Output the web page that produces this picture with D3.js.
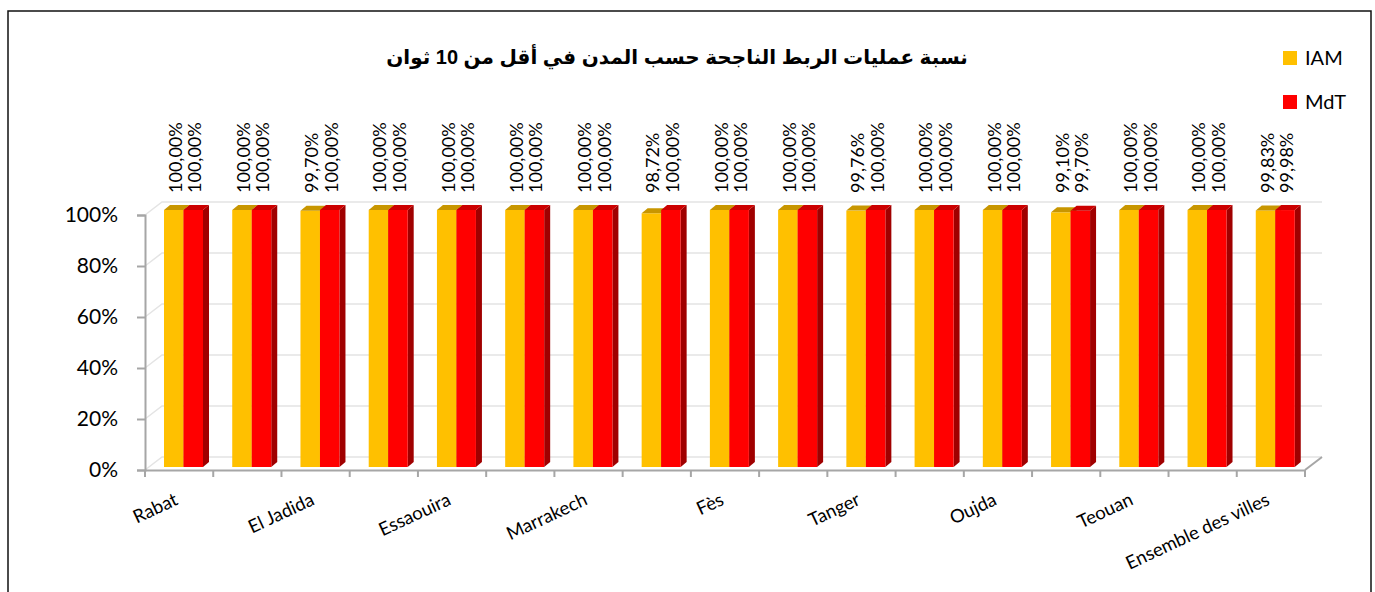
<!DOCTYPE html>
<html>
<head>
<meta charset="utf-8">
<script src="https://cdn.jsdelivr.net/npm/d3@7"></script>
<style>
  body { margin: 0; background: #fff; }
  svg { display: block; }
</style>
</head>
<body>
<svg id="chart" width="1375" height="592"></svg>
<script>
// data
var cities = ["Rabat", "Casablanca", "El Jadida", "Safi", "Essaouira", "Agadir", "Marrakech", "Meknès",
  "Fès", "Kénitra", "Tanger", "Nador", "Oujda", "Al Hoceima", "Teouan", "Larache", "Ensemble des villes"];
var iamValues = [100, 100, 99.70, 100, 100, 100, 100, 98.72, 100, 100, 99.76, 100, 100, 99.10, 100, 100, 99.83];
var mdtValues = [100, 100, 100, 100, 100, 100, 100, 100, 100, 100, 100, 100, 100, 99.70, 100, 100, 99.98];
var seriesNames = ["IAM", "MdT"];
var yTicks = [0, 20, 40, 60, 80, 100];
var title = "نسبة عمليات الربط الناجحة حسب المدن في أقل من 10 ثوان";

var svg = d3.select("#chart");
var sans = "Lato, 'Open Sans', sans-serif";

// colours: front, top, side
var colors = {
  IAM: { front: "#FFC000", top: "#C89600", side: "#B08400" },
  MdT: { front: "#FF0000", top: "#CC0000", side: "#A00000" }
};

// outer frame
svg.append("rect")
  .attr("x", 8).attr("y", 11)
  .attr("width", 1363).attr("height", 600)
  .attr("fill", "#fff")
  .attr("stroke", "#111").attr("stroke-width", 1.5);

// scales
var x = d3.scaleBand().domain(cities).range([145, 1305]).padding(0);
var y = d3.scaleLinear().domain([0, 100]).range([470, 215]);
var yBar = d3.scaleLinear().domain([0, 100]).range([467, 210]);

var depth = { dx: 17, dy: -13 };   // wall / floor depth
var bDepth = { dx: 6, dy: -5 };    // bar depth
var barW = 19.5;

// back wall gridlines + floor lines
var grid = svg.append("g");
yTicks.forEach(function (t) {
  var yy = y(t);
  grid.append("polyline")
    .attr("points", [[145, yy], [145 + depth.dx, yy + depth.dy], [1305 + depth.dx, yy + depth.dy]].join(" "))
    .attr("fill", "none")
    .attr("stroke", "#e4e4e4")
    .attr("stroke-width", 1.5);
});
// floor right edge
svg.append("line")
  .attr("x1", 1305).attr("y1", y(0))
  .attr("x2", 1305 + depth.dx).attr("y2", y(0) + depth.dy)
  .attr("stroke", "#a6a6a6").attr("stroke-width", 2);

// y axis
var yAxis = svg.append("g")
  .attr("transform", "translate(145,0)")
  .call(d3.axisLeft(y).tickValues(yTicks).tickSize(8).tickFormat(function (d) { return d + "%"; }));
yAxis.select(".domain").attr("stroke", "#a6a6a6").attr("stroke-width", 2);
yAxis.selectAll(".tick line").attr("stroke", "#a6a6a6").attr("stroke-width", 2);
yAxis.selectAll(".tick text")
  .attr("x", -27)
  .attr("font-family", sans)
  .attr("font-size", 21)
  .attr("fill", "#000");

// x axis
var xAxis = svg.append("g")
  .attr("transform", "translate(0," + y(0) + ")")
  .call(d3.axisBottom(x).tickSize(0).tickFormat(""));
xAxis.select(".domain").attr("stroke", "#a6a6a6").attr("stroke-width", 2);
var bounds = cities.map(function (c) { return x(c); }).concat([x.range()[1]]);
xAxis.selectAll(".bound").data(bounds).enter().append("line")
  .attr("x1", function (d) { return d; }).attr("x2", function (d) { return d; })
  .attr("y1", 0).attr("y2", 7)
  .attr("stroke", "#a6a6a6").attr("stroke-width", 2);

// bars
var rows = cities.map(function (c, i) {
  return { city: c, values: [iamValues[i], mdtValues[i]] };
});

var groups = svg.selectAll(".grp").data(rows).enter().append("g").attr("class", "grp");

seriesNames.forEach(function (name, si) {
  groups.each(function (d) {
    var g = d3.select(this);
    var v = d.values[si];
    var x0 = x(d.city) + 19 + si * barW;
    var x1 = x0 + barW;
    var yt = yBar(v), yb = yBar(0);
    var c = colors[name];
    // side face
    g.append("polygon")
      .attr("points", [[x1, yt], [x1 + bDepth.dx, yt + bDepth.dy], [x1 + bDepth.dx, yb + bDepth.dy], [x1, yb]].join(" "))
      .attr("fill", c.side);
    // front face
    g.append("rect")
      .attr("x", x0).attr("y", yt)
      .attr("width", barW).attr("height", yb - yt)
      .attr("fill", c.front);
    // top face
    g.append("polygon")
      .attr("points", [[x0, yt], [x0 + bDepth.dx, yt + bDepth.dy], [x1 + bDepth.dx, yt + bDepth.dy], [x1, yt]].join(" "))
      .attr("fill", c.top);
    // data label
    var lx = x0 + barW / 2 + 1;
    g.append("text")
      .attr("transform", "translate(" + lx + ",193) rotate(-90)")
      .attr("dominant-baseline", "central")
      .attr("font-family", sans)
      .attr("font-size", 18)
      .attr("fill", "#000")
      .text(d3.format(".2f")(v).replace(".", ",") + "%");
  });
});

// category labels, every other one shown (as in the original)
svg.selectAll(".cat").data(cities.filter(function (c, i) { return i % 2 === 0; }))
  .enter().append("text")
  .attr("class", "cat")
  .attr("transform", function (c) {
    return "translate(" + (x(c) + x.bandwidth() / 2) + ",504) rotate(-25)";
  })
  .attr("text-anchor", "end")
  .attr("font-family", sans)
  .attr("font-size", 18.5)
  .attr("fill", "#000")
  .text(function (c) { return c; });

// title
svg.append("text")
  .attr("x", 677).attr("y", 64)
  .attr("text-anchor", "middle")
  .attr("direction", "rtl")
  .attr("font-family", "'Liberation Sans', Arial, 'DejaVu Sans', sans-serif")
  .attr("font-weight", "bold")
  .attr("font-size", 20)
  .attr("fill", "#000")
  .text(title);

// legend
var legend = svg.selectAll(".leg").data(seriesNames).enter().append("g")
  .attr("transform", function (d, i) { return "translate(1283," + (51 + i * 44) + ")"; });
legend.append("rect")
  .attr("width", 14).attr("height", 14)
  .attr("fill", function (d) { return colors[d].front; });
legend.append("text")
  .attr("x", 22).attr("y", 14)
  .attr("font-family", sans)
  .attr("font-size", 20)
  .attr("fill", "#000")
  .text(function (d) { return d; });
</script>
</body>
</html>
